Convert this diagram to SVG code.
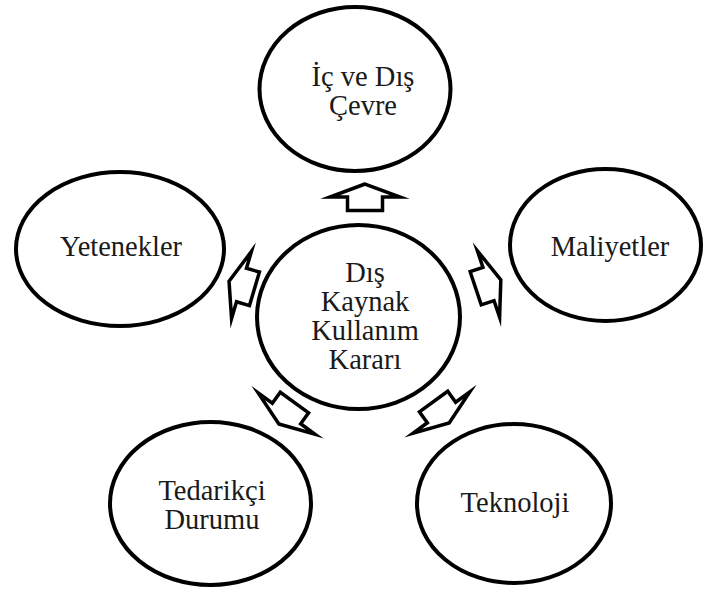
<svg xmlns="http://www.w3.org/2000/svg" xmlns:xlink="http://www.w3.org/1999/xlink" width="704" height="591" viewBox="0 0 704 591">
  <style>
    .node ellipse { fill: #ffffff; stroke: #000000; stroke-width: 4; }
    .arrow { fill: #ffffff; stroke: #000000; stroke-width: 3.5; stroke-linejoin: miter; stroke-miterlimit: 12; }
  </style>
  <defs>
    <!-- block arrow pointing along +x, origin at the middle of the head base -->
    <polygon id="blockArrow" class="arrow" points="13,0 0,-35 0,-17.5 -13.5,-17.5 -13.5,17.5 0,17.5 0,35"/>
  </defs>
  <rect width="704" height="591" fill="#ffffff"/>

  <g id="connectors">
    <use xlink:href="#blockArrow" transform="translate(365,197) rotate(-90)"/>
    <use xlink:href="#blockArrow" transform="translate(488.5,284) rotate(-18.5)"/>
    <use xlink:href="#blockArrow" transform="translate(241.5,285) rotate(196.5)"/>
    <use xlink:href="#blockArrow" transform="translate(286.5,413.5) rotate(126)"/>
    <use xlink:href="#blockArrow" transform="translate(441.5,412.5) rotate(54)"/>
  </g>

  <g font-family="Liberation Serif, DejaVu Serif, serif" font-size="28.5" fill="#1a1a1a" text-anchor="middle">
    <g id="node-center" class="node">
      <ellipse cx="358.5" cy="317" rx="101.5" ry="92"/>
      <text x="365" y="282">Dış</text>
      <text x="365" y="311">Kaynak</text>
      <text x="365" y="340">Kullanım</text>
      <text x="365" y="369">Kararı</text>
    </g>

    <g id="node-cevre" class="node">
      <ellipse cx="355" cy="89" rx="95.5" ry="82"/>
      <text x="363" y="86">İç ve Dış</text>
      <text x="363" y="115">Çevre</text>
    </g>

    <g id="node-yetenekler" class="node">
      <ellipse cx="120" cy="249" rx="104" ry="77"/>
      <text x="121" y="256">Yetenekler</text>
    </g>

    <g id="node-maliyetler" class="node">
      <ellipse cx="605.5" cy="245" rx="95.5" ry="76"/>
      <text x="610" y="256">Maliyetler</text>
    </g>

    <g id="node-tedarikci" class="node">
      <ellipse cx="210.5" cy="503.5" rx="100.5" ry="81.5"/>
      <text x="212" y="500">Tedarikçi</text>
      <text x="212" y="529">Durumu</text>
    </g>

    <g id="node-teknoloji" class="node">
      <ellipse cx="514" cy="503.5" rx="97" ry="79.5"/>
      <text x="515" y="512">Teknoloji</text>
    </g>
  </g>
</svg>
